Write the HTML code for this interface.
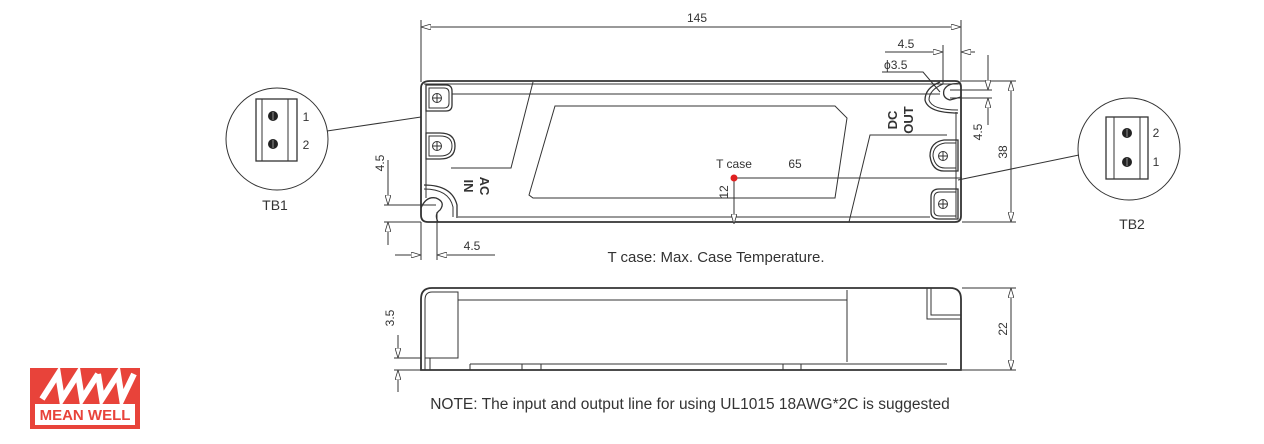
<!DOCTYPE html>
<html><head><meta charset="utf-8"><style>
html,body{margin:0;padding:0;background:#fff;}
svg{display:block;}
text{font-family:"Liberation Sans",sans-serif;fill:#333;}
</style></head><body>
<svg width="1264" height="444" viewBox="0 0 1264 444" xmlns="http://www.w3.org/2000/svg">
<defs>
<marker id="ar" viewBox="0 0 10 6" refX="10" refY="3" markerWidth="10" markerHeight="6" orient="auto-start-reverse" markerUnits="userSpaceOnUse"><path d="M0,0 L10,3 L0,6 Z" fill="#fff" stroke="#333" stroke-width="0.8"/></marker>
</defs>
<g fill="none" stroke="#333" stroke-width="1">
<!-- 145 dim -->
<line x1="421" y1="20" x2="421" y2="82"/><line x1="961" y1="20" x2="961" y2="82"/>
<line x1="421" y1="27" x2="961" y2="27" marker-start="url(#ar)" marker-end="url(#ar)"/>
<!-- top body -->
<path d="M430,81 H955 Q961,81 961,87 V216 Q961,222 955,222 H428 Q421,222 421,215 V88 Q421,81 430,81 Z" stroke-width="1.8"/>
<line x1="424" y1="84" x2="958" y2="84"/>
<line x1="452" y1="94" x2="940" y2="94"/>
<line x1="458" y1="217" x2="930" y2="217"/>
<path d="M533,82 L511,168 H451"/>
<path d="M555,106 H835 L847,118 L835,198 H533 L529,195 Z"/>
<path d="M849,222 L870,135 H947"/>
<line x1="426" y1="84" x2="426" y2="198"/>
<line x1="956" y1="112" x2="956" y2="218"/>
<!-- left mounts -->
<path d="M426,85 H446 Q452,85 452,91 V105 Q452,111 446,111 H426 Z" stroke-width="1.3"/>
<path d="M429,88 H444 Q449,88 449,93 V103 Q449,108 444,108 H429 Z"/>
<circle cx="437" cy="98" r="4.5"/><line x1="432.5" y1="98" x2="441.5" y2="98"/><line x1="437" y1="93.5" x2="437" y2="102.5"/>
<path d="M426,133 H440 Q455,133 455,146 Q455,159 440,159 H426 Z" stroke-width="1.3"/>
<path d="M429,136 H440 Q452,136 452,146 Q452,156 440,156 H429 Z"/>
<circle cx="437" cy="146" r="4.5"/><line x1="432.5" y1="146" x2="441.5" y2="146"/><line x1="437" y1="141.5" x2="437" y2="150.5"/>
<path d="M424,185 Q452,185 457,205 L457,218" stroke-width="1.3"/>
<path d="M424,189 Q449,189 453,207 L453,217"/>
<path d="M421,208 Q426,196 436,198 Q446,202 440,210 Q434,214 438,222" stroke-width="1.3"/>
<!-- right mounts -->
<path d="M940,82 Q925,88 925,100 Q928,113 958,113" stroke-width="1.3"/>
<path d="M943,84 Q929,90 929,100 Q932,110 958,110"/>
<path d="M961,84 Q948,82 944,90 Q942,98 950,100 L961,97" stroke-width="1.3"/>
<path d="M958,140 H944 Q930,142 930,156 Q932,171 944,171 H958 Z" stroke-width="1.3"/>
<path d="M956,143 H945 Q933,145 933,156 Q935,168 945,168 H956"/>
<circle cx="943" cy="156" r="4.5"/><line x1="938.5" y1="156" x2="947.5" y2="156"/><line x1="943" y1="151.5" x2="943" y2="160.5"/>
<path d="M958,189 H939 Q931,189 931,197 V212 Q931,219 939,219 H958 Z" stroke-width="1.3"/>
<path d="M956,192 H940 Q934,192 934,198 V211 Q934,216 940,216 H956"/>
<circle cx="943" cy="204" r="4.5"/><line x1="938.5" y1="204" x2="947.5" y2="204"/><line x1="943" y1="199.5" x2="943" y2="208.5"/>
<!-- tcase -->
<line x1="734" y1="178" x2="962" y2="178"/>
<line x1="734" y1="178" x2="734" y2="224" marker-end="url(#ar)"/>
<!-- right dims -->
<line x1="962" y1="81" x2="1016" y2="81"/><line x1="962" y1="222" x2="1016" y2="222"/>
<line x1="1011" y1="81" x2="1011" y2="222" marker-start="url(#ar)" marker-end="url(#ar)"/>
<line x1="950" y1="90" x2="992" y2="90"/><line x1="950" y1="98" x2="992" y2="98"/>
<line x1="988" y1="55" x2="988" y2="90" marker-end="url(#ar)"/>
<line x1="988" y1="98" x2="988" y2="125" marker-start="url(#ar)"/>
<line x1="943" y1="45" x2="943" y2="84"/><line x1="961" y1="45" x2="961" y2="82"/>
<line x1="885" y1="52" x2="943" y2="52" marker-end="url(#ar)"/>
<line x1="961" y1="52" x2="975" y2="52" marker-start="url(#ar)"/>
<path d="M882,72 H923 L940,92"/>
<!-- left dims -->
<line x1="384" y1="205" x2="436" y2="205"/><line x1="384" y1="222" x2="421" y2="222"/>
<line x1="388" y1="160" x2="388" y2="205" marker-end="url(#ar)"/>
<line x1="388" y1="222" x2="388" y2="245" marker-start="url(#ar)"/>
<line x1="421" y1="222" x2="421" y2="260"/><line x1="437" y1="212" x2="437" y2="260"/>
<line x1="395" y1="255" x2="421" y2="255" marker-end="url(#ar)"/>
<line x1="437" y1="255" x2="495" y2="255" marker-start="url(#ar)"/>
<!-- TB1 -->
<circle cx="277" cy="139" r="51"/>
<rect x="256" y="99" width="41" height="62" stroke-width="1.3"/><line x1="262" y1="99" x2="262" y2="161"/><line x1="288" y1="99" x2="288" y2="161"/>
<line x1="327" y1="131" x2="421" y2="117"/>
<!-- TB2 -->
<circle cx="1129" cy="149" r="51"/>
<rect x="1106" y="117" width="42" height="62" stroke-width="1.3"/><line x1="1114" y1="117" x2="1114" y2="179"/><line x1="1140" y1="117" x2="1140" y2="179"/>
<line x1="1079" y1="155" x2="958" y2="180"/>
<!-- side view -->
<path d="M432,288 H950 Q961,288 961,299 V370 H421 V299 Q421,288 432,288 Z" stroke-width="1.8"/>
<path d="M425,370 V300 Q425,292 432,292 H458 V358 H425"/>
<line x1="430" y1="358" x2="430" y2="370"/>
<line x1="458" y1="300" x2="847" y2="300"/>
<line x1="847" y1="290" x2="847" y2="362"/>
<path d="M927,288 V319 H961 M931,288 V315 H961"/>
<line x1="470" y1="364" x2="947" y2="364"/>
<line x1="470" y1="364" x2="470" y2="370"/><line x1="522" y1="364" x2="522" y2="370"/><line x1="541" y1="364" x2="541" y2="370"/>
<line x1="783" y1="364" x2="783" y2="370"/><line x1="801" y1="364" x2="801" y2="370"/>
<line x1="962" y1="288" x2="1016" y2="288"/><line x1="962" y1="370" x2="1016" y2="370"/>
<line x1="1011" y1="288" x2="1011" y2="370" marker-start="url(#ar)" marker-end="url(#ar)"/>
<line x1="394" y1="358" x2="421" y2="358"/><line x1="394" y1="370" x2="421" y2="370"/>
<line x1="398" y1="335" x2="398" y2="358" marker-end="url(#ar)"/>
<line x1="398" y1="370" x2="398" y2="392" marker-start="url(#ar)"/>
</g>
<g fill="#222">
<circle cx="273" cy="116" r="5"/><circle cx="273" cy="144" r="5"/>
<circle cx="1127" cy="133" r="5"/><circle cx="1127" cy="162" r="5"/>
</g>
<g stroke="#aaa" stroke-width="0.8"><line x1="273" y1="112" x2="273" y2="120"/><line x1="273" y1="140" x2="273" y2="148"/><line x1="1127" y1="129" x2="1127" y2="137"/><line x1="1127" y1="158" x2="1127" y2="166"/></g>
<circle cx="734" cy="178" r="3.5" fill="#e02020"/>
<g font-size="12">
<text x="697" y="22" text-anchor="middle">145</text>
<text x="734" y="168" text-anchor="middle">T case</text>
<text x="795" y="168" text-anchor="middle">65</text>
<text transform="translate(728,192) rotate(-90)" text-anchor="middle">12</text>
<text transform="translate(1007,152) rotate(-90)" text-anchor="middle">38</text>
<text transform="translate(982,132) rotate(-90)" text-anchor="middle">4.5</text>
<text x="906" y="48" text-anchor="middle">4.5</text>
<text x="884" y="69">ϕ3.5</text>
<text transform="translate(384,163) rotate(-90)" text-anchor="middle">4.5</text>
<text x="472" y="250" text-anchor="middle">4.5</text>
<text transform="translate(394,318) rotate(-90)" text-anchor="middle">3.5</text>
<text transform="translate(1007,329) rotate(-90)" text-anchor="middle">22</text>
<text x="306" y="121" text-anchor="middle">1</text><text x="306" y="149" text-anchor="middle">2</text>
<text x="1156" y="137" text-anchor="middle">2</text><text x="1156" y="166" text-anchor="middle">1</text>
</g>
<g font-size="13" font-weight="bold">
<text transform="translate(464,186) rotate(90)" text-anchor="middle" fill="#222">IN</text>
<text transform="translate(480,186) rotate(90)" text-anchor="middle" fill="#222">AC</text>
<text transform="translate(897,120) rotate(-90)" text-anchor="middle" fill="#222">DC</text>
<text transform="translate(913,120) rotate(-90)" text-anchor="middle" fill="#222">OUT</text>
</g>
<text x="275" y="210" font-size="14" text-anchor="middle">TB1</text>
<text x="1132" y="229" font-size="14" text-anchor="middle">TB2</text>
<text x="716" y="262" font-size="15" text-anchor="middle">T case: Max. Case Temperature.</text>
<text x="690" y="409" font-size="15.5" text-anchor="middle">NOTE: The input and output line for using UL1015 18AWG*2C is suggested</text>
<!-- logo -->
<rect x="30" y="368" width="110" height="61" fill="#e8433a"/>
<polyline points="42,399 58,374 62,399 78,374 82,399 98,374" fill="none" stroke="#fff" stroke-width="6" stroke-linejoin="miter"/>
<polyline points="98,374 102,399 118,374 122,399 134,374" fill="none" stroke="#fff" stroke-width="6" stroke-linejoin="miter"/>
<rect x="35" y="404" width="100" height="21" fill="#fff"/>
<text x="85" y="420" font-size="15" font-weight="bold" text-anchor="middle" style="fill:#e8433a">MEAN WELL</text>
</svg>
</body></html>
